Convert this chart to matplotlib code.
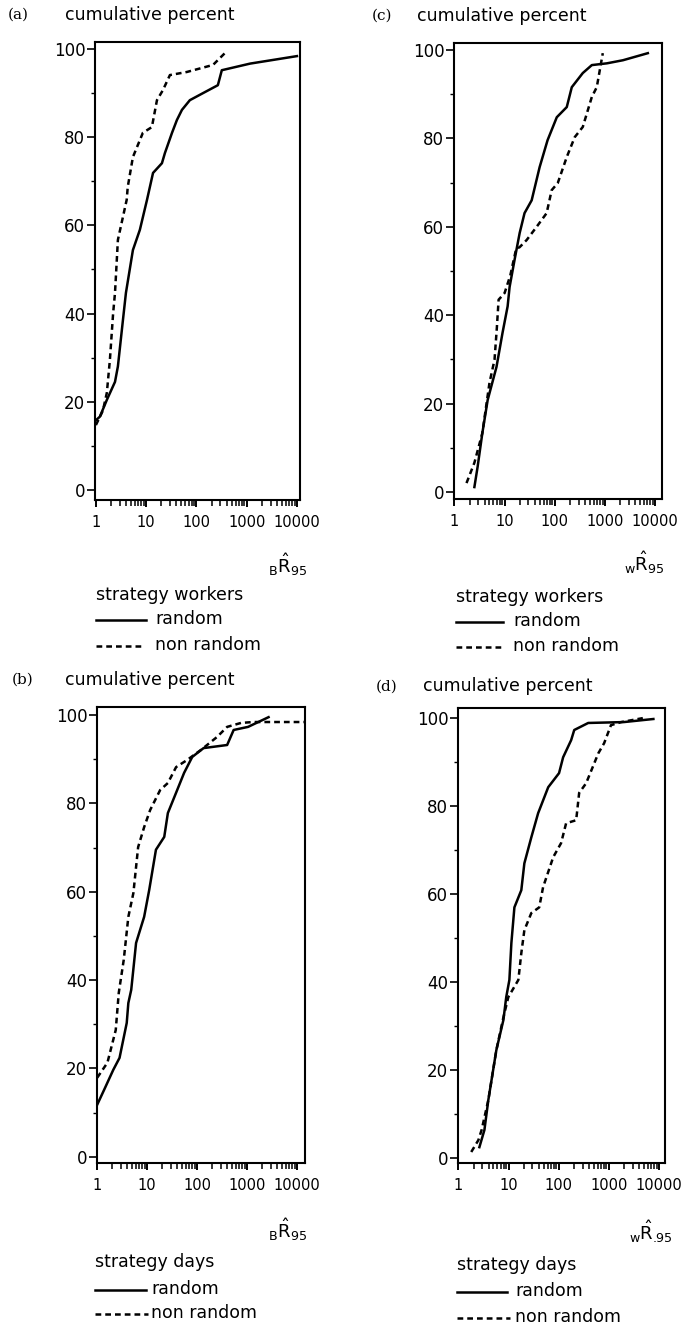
import matplotlib
matplotlib.use("Agg")
import matplotlib.pyplot as plt
from matplotlib.lines import Line2D
from matplotlib.ticker import LogLocator, NullFormatter, FixedLocator

plt.rcParams['font.family'] = 'DejaVu Sans'
plt.rcParams['mathtext.fontset'] = 'dejavusans'

# --- data (x = R95 estimate, y = cumulative percent) ---
# (a) between-worker ratio, strategy workers
a_rand_x = [1.0, 1.2, 1.65, 2.4, 2.74, 3.45, 3.96, 5.45, 7.5, 10.4, 13.7, 20.6, 23.6,
            32.7, 40.9, 51.5, 74, 135, 267, 320, 1170, 10000]
a_rand_y = [15.8, 16.6, 20.4, 24.5, 28, 38.5, 44.7, 54.4, 59, 65.8, 71.9, 74.1, 76.4,
            81, 83.9, 86.2, 88.4, 90, 91.8, 95.2, 96.7, 98.4]
a_nonr_x = [1.0, 1.38, 1.65, 1.9, 2.2, 2.4, 2.74, 4.1, 4.3, 5.45, 8.6, 13, 16.4, 21.6,
            29.7, 64.6, 214, 370]
a_nonr_y = [14.7, 18, 22, 29.5, 40, 44.7, 56.7, 65.8, 68.7, 75.5, 81, 82.3, 88.4, 90.7,
            94.1, 94.8, 96.4, 99.1]

# (c) within-worker ratio, strategy workers
c_rand_x = [2.5, 2.9, 3.6, 4.6, 6.9, 9.1, 11.5, 12.6, 15.8, 20, 25, 34.7, 50, 72, 110,
            174, 219, 363, 550, 1100, 2300, 7200]
c_rand_y = [1.1, 5.7, 13.3, 20.8, 28.3, 36, 42, 46.4, 52.5, 58.6, 63.1, 66, 73.5, 79.6,
            84.8, 87.1, 91.6, 94.8, 96.6, 97, 97.7, 99.3]
c_nonr_x = [1.74, 2.5, 3.6, 5, 6.3, 7.0, 7.6, 10, 13, 17, 20, 27.5, 43.6, 69, 87, 115,
            174, 251, 363, 550, 690, 910]
c_nonr_y = [2, 6.6, 13.3, 24.7, 29.9, 37, 43.5, 45, 49, 55, 55.4, 57, 60, 63.1, 68.3,
            69.9, 75.8, 80.3, 82.6, 89.4, 91.6, 99.3]

# (b) between-worker ratio, strategy days
b_rand_x = [1.0, 1.38, 2.1, 2.8, 3.9, 4.2, 4.8, 6.0, 8.7, 11, 15, 22, 26, 38, 55, 80,
            135, 400, 540, 1050, 2700]
b_rand_y = [11.8, 15.2, 19.7, 22.4, 30.3, 34.8, 37.8, 48.4, 54.3, 60.4, 69.5, 72.4,
            77.8, 82.4, 86.9, 90.5, 92.5, 93.2, 96.6, 97.3, 99.5]
b_nonr_x = [1.0, 1.6, 2.35, 2.7, 3.4, 4.2, 5.3, 6.6, 8.7, 11.5, 18.2, 26, 38, 63, 120,
            250, 400, 760, 1330, 14500]
b_nonr_y = [17.9, 21.3, 28.7, 37.1, 44.6, 54.3, 59.7, 70.1, 74.6, 78.5, 83, 84.6, 88.2,
            89.8, 92.1, 95, 97.3, 98.2, 98.4, 98.4]

# (d) within-worker ratio, strategy days
d_rand_x = [2.62, 3.3, 3.95, 5.7, 7.9, 9.0, 10.4, 11.4, 13.1, 18, 20.7, 28.5, 39, 62,
            102, 123, 178, 205, 390, 2000, 7800]
d_rand_y = [2.5, 6.4, 13.2, 24.5, 31.4, 36.6, 40.5, 48.9, 57, 60.9, 67, 72.9, 78.4,
            84.3, 87.5, 91.1, 95, 97.3, 98.9, 99.1, 99.8]
d_nonr_x = [1.8, 2.5, 2.9, 3.95, 5.7, 7.9, 9.9, 15.7, 18, 20.7, 28.5, 41, 49, 78, 112,
            141, 224, 257, 354, 620, 810, 1110, 1780, 4800]
d_nonr_y = [1.4, 4.1, 6.4, 13.2, 24.5, 32, 36.6, 40.5, 46.6, 51.8, 55.7, 57, 61.6, 68.4,
            71.6, 76.1, 76.8, 83, 85.2, 92, 94.3, 98.4, 99.1, 100]

x_ticks = [1, 10, 100, 1000, 10000]
x_tick_labels = ['1', '10', '100', '1000', '10000']
y_ticks = [0, 20, 40, 60, 80, 100]

W, H = 684, 1328
fig = plt.figure(figsize=(W / 100, H / 100), dpi=100)

DASH = (0, (2.3, 1.6))
LW = 1.8


def ftext(x, y, s, **kw):
    # place text using reference pixel coordinates
    fig.text(x / W, 1 - y / H, s, **kw)


def fline(x0, x1, y, ls):
    fig.add_artist(Line2D([x0 / W, x1 / W], [1 - y / H, 1 - y / H],
                          transform=fig.transFigure, color='black', lw=LW, ls=ls))


panels = [
    # tag, box (l, t, r, b) px, xlim, rand, nonrand, legend title, xlabel
    dict(tag='(a)', box=(95, 42, 300, 500), xlim=(0.96, 11500), ylim=(-2.3, 101.6),
         rand=(a_rand_x, a_rand_y), nonr=(a_nonr_x, a_nonr_y),
         title='strategy workers', xlabel=r'${}_{\mathrm{B}}\hat{\mathrm{R}}_{95}$',
         tag_xy=(8, 15), head_xy=(65, 15), xl_xy=(307, 565),
         leg_x=96, leg_y=(595, 620, 646), leg_len=(50, 47), leg_tx=155),
    dict(tag='(c)', box=(454, 43, 662, 499), xlim=(0.98, 13800), ylim=(-1.6, 101.6),
         rand=(c_rand_x, c_rand_y), nonr=(c_nonr_x, c_nonr_y),
         title='strategy workers', xlabel=r'${}_{\mathrm{w}}\hat{\mathrm{R}}_{95}$',
         tag_xy=(372, 16), head_xy=(417, 16), xl_xy=(665, 563),
         leg_x=456, leg_y=(597, 622, 647), leg_len=(47, 48), leg_tx=513),
    dict(tag='(b)', box=(97, 707, 305, 1163), xlim=(0.99, 14500), ylim=(-1.4, 101.8),
         rand=(b_rand_x, b_rand_y), nonr=(b_nonr_x, b_nonr_y),
         title='strategy days', xlabel=r'${}_{\mathrm{B}}\hat{\mathrm{R}}_{95}$',
         tag_xy=(12, 680), head_xy=(65, 680), xl_xy=(307, 1230),
         leg_x=95, leg_y=(1262, 1290, 1314), leg_len=(51, 53), leg_tx=151),
    dict(tag='(d)', box=(458, 708, 665, 1163), xlim=(0.98, 13300), ylim=(-1.1, 102.3),
         rand=(d_rand_x, d_rand_y), nonr=(d_nonr_x, d_nonr_y),
         title='strategy days', xlabel=r'${}_{\mathrm{w}}\hat{\mathrm{R}}_{.\!\!95}$',
         tag_xy=(376, 687), head_xy=(423, 686), xl_xy=(672, 1232),
         leg_x=457, leg_y=(1265, 1292, 1318), leg_len=(50, 53), leg_tx=515),
]

for p in panels:
    l, t, r, b = p['box']
    ax = fig.add_axes([l / W, 1 - b / H, (r - l) / W, (b - t) / H])
    ax.plot(*p['rand'], color='black', lw=LW, solid_joinstyle='round')
    ax.plot(*p['nonr'], color='black', lw=LW, ls=DASH)

    ax.set_xscale('log')
    ax.set_xlim(*p['xlim'])
    ax.set_ylim(*p['ylim'])
    ax.xaxis.set_major_locator(FixedLocator(x_ticks))
    ax.set_xticklabels(x_tick_labels)
    ax.xaxis.set_minor_locator(LogLocator(base=10, subs=range(2, 10), numticks=50))
    ax.xaxis.set_minor_formatter(NullFormatter())
    ax.set_yticks(y_ticks)
    ax.set_yticks([10, 30, 50, 70, 90], minor=True)

    for s in ax.spines.values():
        s.set_linewidth(1.5)
    ax.tick_params(axis='x', which='major', direction='out', length=5, width=1.4,
                   labelsize=10.5, pad=6)
    ax.tick_params(axis='x', which='minor', direction='out', length=4, width=1.1)
    ax.tick_params(axis='y', which='major', direction='out', length=6, width=1.2,
                   labelsize=12, pad=1)
    ax.tick_params(axis='y', which='minor', direction='out', length=3, width=1.0)

    ftext(*p['tag_xy'], p['tag'], family='DejaVu Serif', fontsize=11, va='center')
    ftext(*p['head_xy'], 'cumulative percent', fontsize=12.5, va='center')
    ftext(*p['xl_xy'], p['xlabel'], fontsize=13, ha='right', va='center')

    # hand-drawn style legend below each panel
    ty, ry, ny = p['leg_y']
    x0 = p['leg_x']
    ftext(x0, ty, p['title'], fontsize=12.5, va='center')
    fline(x0, x0 + p['leg_len'][0], ry, '-')
    ftext(p['leg_tx'], ry - 1, 'random', fontsize=12.5, va='center')
    fline(x0, x0 + p['leg_len'][1], ny, DASH)
    ftext(p['leg_tx'], ny - 1, 'non random', fontsize=12.5, va='center')

fig.savefig('out.png', dpi=100)
